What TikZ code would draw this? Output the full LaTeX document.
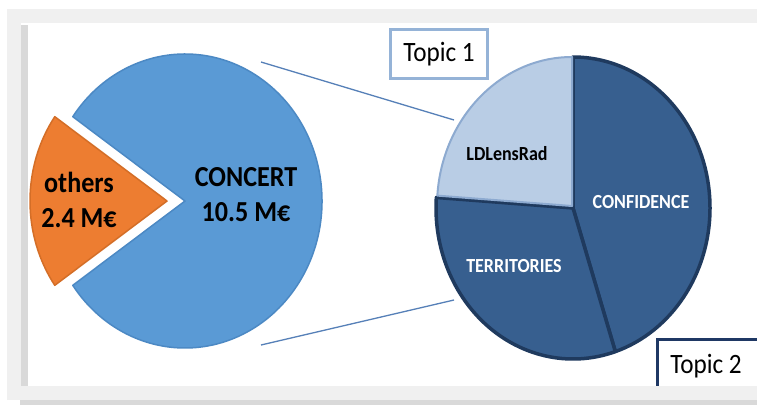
\documentclass[tikz,border=0pt]{standalone}
\usepackage{fontspec}
\setmainfont{Carlito}
\newfontfamily\cfont[FakeStretch=0.9]{Carlito}
\definecolor{bggray}{HTML}{F0F0F0}
\definecolor{stripgray}{HTML}{D9D9D9}
\definecolor{mainblue}{HTML}{5A9AD5}
\definecolor{mainblueedge}{HTML}{4C89C4}
\definecolor{orangefill}{HTML}{ED7D31}
\definecolor{orangeedge}{HTML}{D46E27}
\definecolor{darkslice}{HTML}{375F8F}
\definecolor{darkedge}{HTML}{1F3A5E}
\definecolor{lightslice}{HTML}{B9CDE5}
\definecolor{lightedge}{HTML}{8DAAD0}
\definecolor{linkblue}{HTML}{5680B8}
\definecolor{topicone}{HTML}{95B3D7}
\definecolor{topictwo}{HTML}{1F3864}
\tikzset{
  bigpie/.style={fill=mainblue, draw=mainblueedge, line width=1.5pt, line join=round},
  otherpie/.style={fill=orangefill, draw=orangeedge, line width=1.5pt, line join=round},
  darkpie/.style={fill=darkslice, draw=darkedge, line width=3.5pt, line join=round},
  lightpie/.style={fill=lightslice, draw=lightedge, line width=2pt, line join=round},
  link/.style={draw=linkblue, line width=1.3pt},
  biglabel/.style={font=\cfont\bfseries\fontsize{29}{35}\selectfont, align=center, text=black, inner sep=0pt},
  slicelabel/.style={font=\cfont\bfseries\fontsize{20}{24}\selectfont, inner sep=0pt},
  topiclabel/.style={font=\cfont\fontsize{28}{32}\selectfont, inner sep=0pt, text=black}
}
\begin{document}
\begin{tikzpicture}[x=1pt,y=-1pt]
\useasboundingbox (0,0) rectangle (757,405);
% background
\fill[white] (0,0) rectangle (757,405);
\fill[bggray] (7,9) rectangle (757,400);
\fill[white] (21,23) rectangle (757,386);
\fill[stripgray] (21,25) rectangle (28,386);
% big pie
\path[bigpie] (185,201) -- ++(-145:137 and 147)
  arc[start angle=-145, end angle=145, x radius=137, y radius=147] -- cycle;
\path[otherpie] (167,201) -- ++(145:137 and 147)
  arc[start angle=145, end angle=215, x radius=137, y radius=147] -- cycle;
% connectors
\coordinate (l1a) at (261,62);
\coordinate (l1b) at (454,120);
\coordinate (l2a) at (261,345);
\coordinate (l2b) at (454,300);
\draw[link] (l1a) -- (l1b);
\draw[link] (l2a) -- (l2b);
% small pie
\path[darkpie] (573,208) -- ++(-90:137 and 151)
  arc[start angle=-90, end angle=72, x radius=137, y radius=151] -- cycle;
\path[darkpie] (573,208) -- ++(72:137 and 151)
  arc[start angle=72, end angle=184, x radius=137, y radius=151] -- cycle;
\path[lightpie] (572,206) -- ++(-176:135 and 149)
  arc[start angle=-176, end angle=-90, x radius=135, y radius=149] -- cycle;
% labels
\node[biglabel] (concert) at (246,195) {CONCERT\\10.5 M€};
\node[biglabel] (others) at (79,200) {others\\2.4 M€};
\node[slicelabel, text=black] (ldlens) at (507,154) {LDLensRad};
\node[slicelabel, text=white] (confidence) at (641,202) {CONFIDENCE};
\node[slicelabel, text=white] (territories) at (514,266) {TERRITORIES};
% topic boxes
\node[topiclabel, draw=topicone, line width=3pt, fill=white, minimum width=97pt, minimum height=49pt] (topic1) at (439,54) {Topic 1};
\fill[white] (657.5,339.5) rectangle (760,390);
\draw[topictwo, line width=3pt] (760,339.5) -- (657.5,339.5) -- (657.5,390);
\node[topiclabel] (topic2) at (706,366) {Topic 2};
% bottom band
\fill[bggray] (7,386) rectangle (757,400);
\fill[stripgray] (20,400) rectangle (757,405);
\end{tikzpicture}
\end{document}
